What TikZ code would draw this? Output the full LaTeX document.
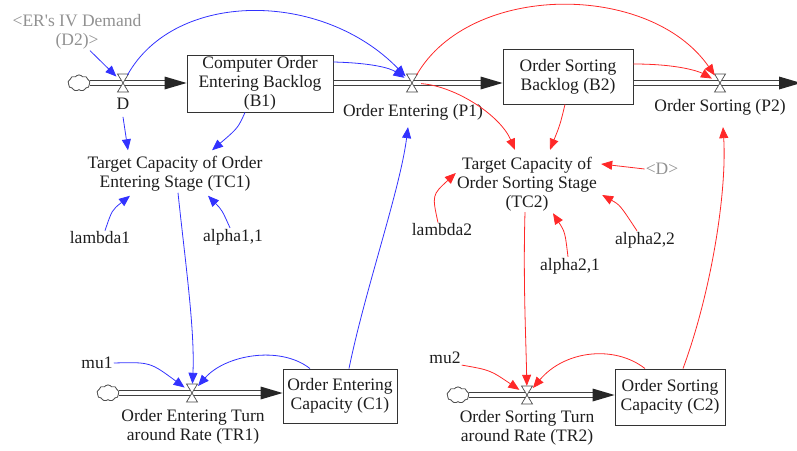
\documentclass[tikz,border=0pt]{standalone}
\usepackage{fontspec}
\setmainfont{Liberation Serif}
\newfontfamily\diagfont{Liberation Serif}
\usetikzlibrary{shapes.symbols,arrows.meta}
\definecolor{lblue}{RGB}{50,50,255}
\definecolor{lred}{RGB}{255,40,40}
\definecolor{shadowc}{RGB}{145,145,145}
\definecolor{inkc}{RGB}{30,30,30}
\newcommand\pipehead[1]{\fill[black!85] #1 -- ++(-22,-6.5) -- ++(0,13) -- cycle;}
\begin{document}
\begin{tikzpicture}[x=1pt,y=-1pt,
  every node/.style={font=\diagfont\fontsize{17.5}{19}\selectfont},
  txt/.style={align=center, inner sep=1pt, text=inkc},
  shadowtxt/.style={align=center, inner sep=1pt, text=shadowc},
  stock/.style={draw=black!80, line width=0.9pt, align=center, inner sep=1pt, text=inkc, fill=white},
  valve/.style={circle, minimum size=18pt, inner sep=0pt},
  cloudn/.style={cloud, cloud puffs=9, cloud puff arc=110, draw=black!70, fill=white, line width=0.7pt, minimum width=22pt, minimum height=16pt, inner sep=0pt, aspect=1.4},
  pipeout/.style={draw=black!75, line width=5.6pt},
  pipein/.style={draw=white, line width=3.6pt},
  bl/.style={draw=lblue, line width=0.8pt, -{Triangle[length=11pt,width=9pt]}},
  rd/.style={draw=lred, line width=0.8pt, -{Triangle[length=11pt,width=9pt]}},
]
\useasboundingbox (0,0) rectangle (797,450);
\clip (0,0) rectangle (797,450);

% ---------- nodes ----------
\node[shadowtxt] (ER) at (77,32) {<ER's IV Demand\\(D2)>};
\node[valve] (vD) at (123,83) {};
\node[txt] (Dl) at (123,104) {D};
\node[stock, minimum width=146pt, minimum height=57pt] (B1) at (260,83.5) {Computer Order\\Entering Backlog\\(B1)};
\node[valve] (vP1) at (412,83) {};
\node[txt] (P1l) at (413,112) {Order Entering (P1)};
\node[stock, minimum width=130pt, minimum height=55pt] (B2) at (568,76.5) {Order Sorting\\Backlog (B2)};
\node[valve] (vP2) at (720,83) {};
\node[txt] (P2l) at (720,107) {Order Sorting (P2)};
\coordinate (sink) at (801,83);

\node[txt] (TC1) at (175,174) {Target Capacity of Order\\Entering Stage (TC1)};
\node[txt] (la1) at (100,238) {lambda1};
\node[txt] (al11) at (233,237) {alpha1,1};
\node[txt] (TC2) at (527,184) {Target Capacity of\\Order Sorting Stage\\(TC2)};
\node[shadowtxt] (Ds) at (662,169) {<D>};
\node[txt] (la2) at (442,230) {lambda2};
\node[txt] (al22) at (645,240) {alpha2,2};
\node[txt] (al21) at (570,266) {alpha2,1};

\node[txt] (mu1) at (97,363) {mu1};
\node[valve] (vT1) at (192,393) {};
\node[txt] (T1l) at (193,427) {Order Entering Turn\\around Rate (TR1)};
\node[stock, minimum width=114pt, minimum height=54pt] (C1) at (340,396) {Order Entering\\Capacity (C1)};

\node[txt] (mu2) at (445,358) {mu2};
\node[valve] (vT2) at (527,395) {};
\node[txt] (T2l) at (527,428) {Order Sorting Turn\\around Rate (TR2)};
\node[stock, minimum width=110pt, minimum height=56pt] (C2) at (670,397) {Order Sorting\\Capacity (C2)};

% ---------- pipes ----------
\node[cloudn] (cA) at (79,83) {};
\node[cloudn] (cC) at (108,393) {};
\node[cloudn] (cD) at (458,395) {};
\draw[pipeout] (cA.east) -- ([xshift=-20pt]B1.west |- vD);
\draw[pipein] (cA.east) -- ([xshift=-20pt]B1.west |- vD);
\pipehead{(B1.west |- vD)}
\draw[pipeout] (B1.east |- vP1) -- ([xshift=-20pt]B2.west |- vP1);
\draw[pipein] ([xshift=0.5pt]B1.east |- vP1) -- ([xshift=-20pt]B2.west |- vP1);
\pipehead{(B2.west |- vP1)}
\draw[pipeout] (B2.east |- vP2) -- ([xshift=-20pt]sink);
\draw[pipein] ([xshift=0.5pt]B2.east |- vP2) -- ([xshift=-20pt]sink);
\pipehead{(sink)}
\draw[pipeout] (cC.east) -- ([xshift=-20pt]C1.west |- vT1);
\draw[pipein] (cC.east) -- ([xshift=-20pt]C1.west |- vT1);
\pipehead{(C1.west |- vT1)}
\draw[pipeout] (cD.east) -- ([xshift=-20pt]C2.west |- vT2);
\draw[pipein] (cD.east) -- ([xshift=-20pt]C2.west |- vT2);
\pipehead{(C2.west |- vT2)}
\node[cloudn] at (cA) {};
\node[cloudn] at (cC) {};
\node[cloudn] at (cD) {};
\foreach \v in {vD,vP1,vP2,vT1,vT2}
  \draw[black!70, fill=white, line width=0.7pt] (\v.center) ++(-5.5,-9) -- ++(11,0) -- ++(-11,18) -- ++(11,0) -- cycle;

% ---------- blue links ----------
\draw[bl] ([xshift=13pt]ER.south) -- (vD);
\draw[bl] (vD) .. controls (175,-10) and (322,-10) .. (vP1);
\draw[bl] ([yshift=21.5pt]B1.east) .. controls (372,63) and (390,68) .. (vP1);
\draw[bl] ([yshift=-6pt]Dl.south) -- ([xshift=-47pt,yshift=5pt]TC1.north);
\draw[bl] ([xshift=-15pt]B1.south) .. controls (238,128) .. ([xshift=37pt,yshift=5pt]TC1.north);
\draw[bl] ([xshift=5pt]la1.north) .. controls (112,210) .. ([xshift=-45pt,yshift=-3pt]TC1.south);
\draw[bl] ([xshift=-3pt]al11.north) .. controls (222,210) .. ([xshift=33pt,yshift=-3pt]TC1.south);
\draw[bl] ([xshift=3pt]TC1.south) .. controls (185,260) and (195,330) .. (vT1);
\draw[bl] (mu1.east) .. controls (150,362) .. (vT1);
\draw[bl] ([xshift=-30pt]C1.north) .. controls (280,345) and (225,355) .. (vT1);
\draw[bl] ([xshift=9pt]C1.north) .. controls (365,290) and (400,190) .. ([xshift=-5pt,yshift=-6pt]P1l.south);

% ---------- red links ----------
\draw[rd] (vP1) .. controls (470,-18) and (650,-18) .. (vP2);
\draw[rd] ([yshift=12.5pt]B2.east) .. controls (680,64) and (700,72) .. (vP2);
\draw[rd] (vP1) .. controls (455,86) and (500,115) .. ([xshift=-12pt,yshift=6pt]TC2.north);
\draw[rd] ([xshift=-3pt]B2.south) .. controls (560,125) .. ([xshift=23pt,yshift=6pt]TC2.north);
\draw[rd] (Ds.west) -- ([xshift=3pt,yshift=20pt]TC2.east);
\draw[rd] ([xshift=-4pt]la2.north) .. controls (432,195) .. ([yshift=11pt]TC2.west);
\draw[rd] ([xshift=-8pt]al22.north) .. controls (620,205) .. ([xshift=4pt,yshift=-11pt]TC2.east);
\draw[rd] ([xshift=-2pt]al21.north) .. controls (565,232) .. ([xshift=26pt,yshift=-1pt]TC2.south);
\draw[rd] ([xshift=-2pt]TC2.south) .. controls (523,280) and (526,340) .. (vT2);
\draw[rd] (mu2.south east) .. controls (490,370) .. (vT2);
\draw[rd] ([xshift=-25pt]C2.north) .. controls (615,345) and (565,350) .. (vT2);
\draw[rd] ([xshift=13pt]C2.north) .. controls (712,290) and (727,190) .. ([xshift=3pt,yshift=-11pt]P2l.south);
\end{tikzpicture}
\end{document}
